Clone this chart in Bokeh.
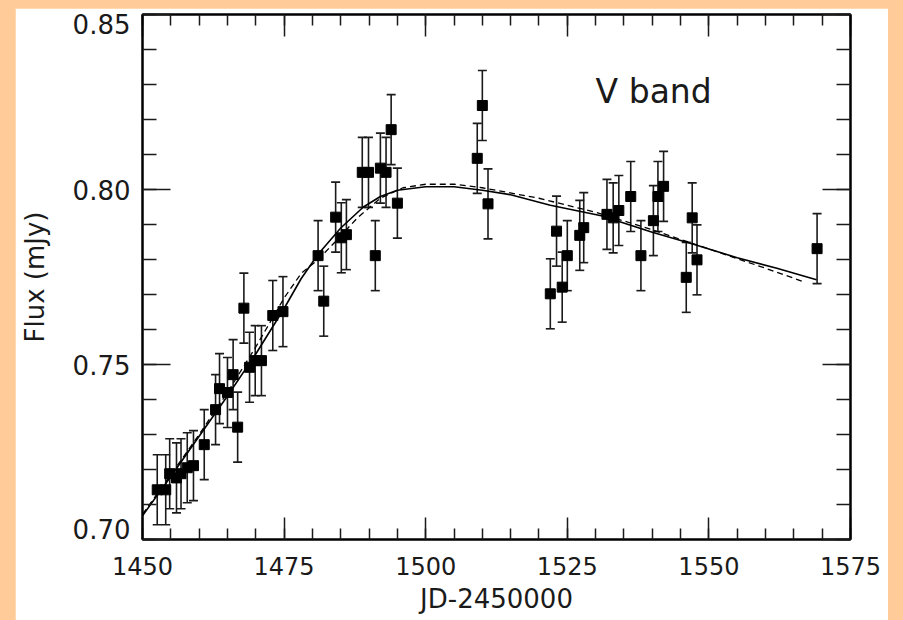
from bokeh.plotting import figure
from bokeh.models import (ColumnDataSource, Range1d, FixedTicker, LinearAxis,
                          Label, Whisker, TeeHead, CustomJSTickFormatter)
from bokeh.layouts import column
from bokeh.embed import file_html
from bokeh.resources import INLINE

# ---------------- data ----------------
jd = [1452.6, 1454.1, 1454.8, 1456.0, 1456.8, 1457.9, 1459.0, 1460.9, 1462.9, 1463.6,
      1465.0, 1466.0, 1466.8, 1467.9, 1468.9, 1469.9, 1471.0, 1473.0, 1474.8, 1481.0,
      1482.0, 1484.1, 1485.1, 1486.0, 1488.8, 1489.9, 1491.1, 1492.0, 1493.0, 1493.9,
      1495.0, 1509.1, 1510.0, 1511.0, 1522.0, 1523.1, 1524.1, 1525.0, 1527.2, 1527.9,
      1532.0, 1533.1, 1534.1, 1536.2, 1538.0, 1540.2, 1541.0, 1542.0, 1546.0, 1547.05,
      1547.9, 1569.1]
flux = [0.7142, 0.7142, 0.7188, 0.7176, 0.7188, 0.7205, 0.7211, 0.7271, 0.7371, 0.7431,
        0.7420, 0.7471, 0.7321, 0.7661, 0.7492, 0.7511, 0.7511, 0.7640, 0.7651, 0.7811,
        0.7681, 0.7921, 0.7862, 0.7871, 0.8049, 0.8049, 0.7811, 0.8061, 0.8049, 0.8171,
        0.7961, 0.8089, 0.8240, 0.7959, 0.7702, 0.7881, 0.7721, 0.7811, 0.7869, 0.7891,
        0.7929, 0.7919, 0.7940, 0.7980, 0.7811, 0.7911, 0.7980, 0.8009, 0.7749, 0.7919,
        0.7799, 0.7831]
flux_err = [0.010] * len(jd)

# solid model curve
model_jd = [1450, 1455, 1460, 1465, 1470, 1475, 1478, 1481, 1485, 1489, 1492, 1495,
            1500, 1505, 1510, 1515, 1522, 1531, 1540, 1547, 1555, 1562, 1569]
model_flux = [0.7068, 0.7180, 0.7295, 0.7410, 0.7530, 0.7660, 0.7745, 0.7815, 0.7890,
              0.7950, 0.7980, 0.7998, 0.8008, 0.8008, 0.7998, 0.7985, 0.7955, 0.7925,
              0.7878, 0.7845, 0.7805, 0.7775, 0.7742]

# dashed model curve
alt_jd = [1450, 1455, 1460, 1465, 1470, 1475, 1478, 1481, 1484, 1488, 1492, 1496,
          1500, 1505, 1510, 1520, 1530, 1540, 1550, 1560, 1567]
alt_flux = [0.7072, 0.7185, 0.7300, 0.7420, 0.7550, 0.7690, 0.7760, 0.7800, 0.7850,
            0.7920, 0.7975, 0.8005, 0.8015, 0.8015, 0.8005, 0.7975, 0.7935, 0.7885,
            0.7830, 0.7775, 0.7735]

x_ticks = [1450, 1475, 1500, 1525, 1550, 1575]
x_minor = list(range(1450, 1576, 5))
y_ticks = [0.70, 0.75, 0.80, 0.85]
y_minor = [round(0.70 + 0.01 * i, 2) for i in range(16)]
y_tick_labels = ["0.70", "0.75", "0.80", "0.85"]
# where the y tick labels sit (end labels are pulled inside the frame, as in the original)
y_label_pos = [0.7031, 0.75, 0.80, 0.8473]

FONT = "DejaVu Sans"
ORANGE = "#FFCC99"
INK = "#1a1a1a"

# ---------------- figure ----------------
p = figure(width=873, height=612, x_range=Range1d(1450, 1575), y_range=Range1d(0.70, 0.85),
           output_backend="svg", toolbar_location=None,
           x_axis_location=None, y_axis_location=None,
           min_border_left=127, min_border_right=38, min_border_top=6, min_border_bottom=81,
           background_fill_color="white", border_fill_color="white")
p.margin = (8, 15, 0, 15)
p.grid.visible = False
p.outline_line_color = "black"
p.outline_line_width = 2


def tick_axis(marks, length, line=True):
    """axis drawing only inward tick marks (no labels)"""
    ax = LinearAxis(ticker=FixedTicker(ticks=[], minor_ticks=marks))
    ax.minor_tick_in = length
    ax.minor_tick_out = 0
    ax.minor_tick_line_width = 1.5
    ax.minor_tick_line_color = INK
    ax.major_tick_in = 0
    ax.major_tick_out = 0
    ax.major_label_standoff = 0
    ax.axis_label_standoff = 0
    if line:
        ax.axis_line_width = 2
        ax.axis_line_color = "black"
    else:
        ax.axis_line_color = None
    return ax


# bottom: labelled axis
xb = LinearAxis(ticker=FixedTicker(ticks=x_ticks, minor_ticks=x_minor))
xb.major_tick_in = 22
xb.major_tick_out = 0
xb.minor_tick_in = 11
xb.minor_tick_out = 0
xb.major_tick_line_width = 1.5
xb.minor_tick_line_width = 1.5
xb.major_tick_line_color = INK
xb.minor_tick_line_color = INK
xb.axis_line_width = 2
xb.axis_line_color = "black"
xb.major_label_text_font = FONT
xb.major_label_text_font_size = "24px"
xb.major_label_text_color = INK
xb.major_label_standoff = 17
xb.axis_label = "JD-2450000"
xb.axis_label_text_font = FONT
xb.axis_label_text_font_size = "26px"
xb.axis_label_text_font_style = "normal"
xb.axis_label_text_color = INK
xb.axis_label_standoff = 6
p.add_layout(xb, "below")

# top: mirrored tick marks
p.add_layout(tick_axis(x_minor, 11), "above")
p.add_layout(tick_axis(x_ticks, 22, line=False), "above")

# left: tick marks, then labels
p.add_layout(tick_axis(y_minor, 14), "left")
p.add_layout(tick_axis(y_ticks, 28, line=False), "left")
yl = LinearAxis(ticker=FixedTicker(ticks=y_label_pos, minor_ticks=[]))
yl.formatter = CustomJSTickFormatter(
    args=dict(pos=y_label_pos, labels=y_tick_labels),
    code="""
        let best = 0;
        for (let i = 1; i < pos.length; i++) {
            if (Math.abs(pos[i] - tick) < Math.abs(pos[best] - tick)) best = i;
        }
        return labels[best];
    """)
yl.major_tick_in = 0
yl.major_tick_out = 0
yl.minor_tick_in = 0
yl.minor_tick_out = 0
yl.axis_line_color = None
yl.major_label_text_font = FONT
yl.major_label_text_font_size = "26px"
yl.major_label_text_color = INK
yl.major_label_standoff = 12
yl.axis_label = "Flux (mJy)"
yl.axis_label_text_font = FONT
yl.axis_label_text_font_size = "26px"
yl.axis_label_text_font_style = "normal"
yl.axis_label_text_color = INK
yl.axis_label_standoff = 20
p.add_layout(yl, "left")

# right: mirrored tick marks
p.add_layout(tick_axis(y_minor, 14), "right")
p.add_layout(tick_axis(y_ticks, 28, line=False), "right")

# model curves
p.line(model_jd, model_flux, line_color="black", line_width=1.6)
p.line(alt_jd, alt_flux, line_color="black", line_width=1.3, line_dash="6 4")

# data with error bars
src = ColumnDataSource(dict(jd=jd, flux=flux,
                            lo=[f - e for f, e in zip(flux, flux_err)],
                            hi=[f + e for f, e in zip(flux, flux_err)]))
p.add_layout(Whisker(base="jd", lower="lo", upper="hi", source=src,
                     line_color=INK, line_width=1.6,
                     lower_head=TeeHead(size=9, line_color=INK, line_width=1.6),
                     upper_head=TeeHead(size=9, line_color=INK, line_width=1.6)))
p.scatter("jd", "flux", source=src, marker="square", size=10,
          fill_color="black", line_color="black")

p.add_layout(Label(x=1530.0, y=0.8280, text="V band", text_align="left",
                   text_baseline="middle", text_font=FONT, text_font_size="33px",
                   text_color=INK))

page = column(p, styles={"background-color": ORANGE})

open("out.html", "w").write(file_html(page, INLINE))
